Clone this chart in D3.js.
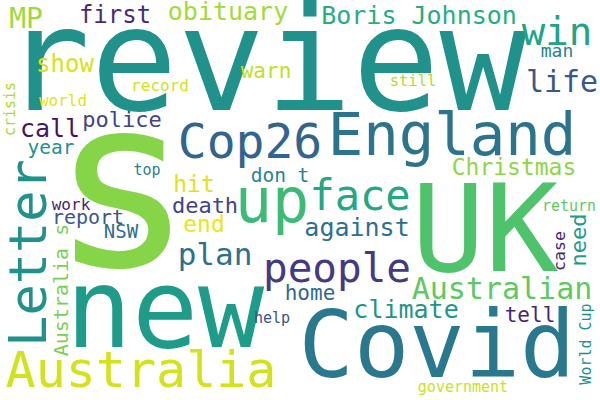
<!DOCTYPE html>
<html>
<head>
<meta charset="utf-8">
<script src="https://cdn.jsdelivr.net/npm/d3@7"></script>
<style>
  body { margin: 0; background: #fff; }
  svg { display: block; }
  text { font-family: "DejaVu Sans Mono", monospace; }
</style>
</head>
<body>
<svg id="svgfield" width="600" height="400"></svg>
<script>
// words and their weights (weight ~ how big the word is drawn)
var words = ["s", "review", "UK", "new", "Covid", "England", "up", "Letter", "Australia", "Cop26",
  "face", "people", "win", "plan", "Australian", "life", "MP", "Boris Johnson", "against", "obituary",
  "call", "climate", "first", "show", "hit", "end", "Christmas", "death", "police", "need",
  "warn", "tell", "home", "Australia s", "report", "don t", "year", "NSW", "man", "case",
  "work", "world", "record", "still", "help", "top", "crisis", "return", "World Cup", "government"];
var weight = [238, 145, 122, 110, 92, 59, 62, 52, 50, 48,
  42, 41, 39, 31, 30, 30, 28, 25, 25, 25,
  25, 25, 24, 24, 23, 23, 23, 22, 22, 22,
  21, 21, 21, 20, 20, 19.5, 19.5, 19, 18, 16.5,
  16, 16, 16, 15.5, 15, 15, 15, 15, 15, 15];
// colour of each word, as a position on the viridis map
var shade = [0.82, 0.5, 0.72, 0.55, 0.4, 0.38, 0.68, 0.5, 0.93, 0.32,
  0.6, 0.17, 0.58, 0.36, 0.75, 0.27, 0.85, 0.62, 0.36, 0.86,
  0.05, 0.52, 0.12, 0.94, 0.95, 0.97, 0.83, 0.2, 0.2, 0.55,
  0.91, 0.1, 0.34, 0.8, 0.27, 0.45, 0.5, 0.35, 0.43, 0.1,
  0.08, 0.95, 0.93, 0.88, 0.25, 0.44, 0.87, 0.75, 0.5, 0.92];

// layout of the cloud: centre x, baseline y, rotation
var posX = [122, 265, 485, 165, 437, 452, 272, 46, 141, 250,
  360, 337, 557, 215, 502, 562, 26, 419, 357, 228,
  50, 406, 115, 65, 194, 204, 514, 205, 122, 586,
  266, 530, 310, 68, 88, 280, 51, 121, 557, 565,
  71, 63, 160, 413, 272, 147, 15, 569, 591, 463];
var posY = [266, 110, 271, 347, 377, 155, 222, 253, 387, 158,
  210, 282, 45, 265, 299, 92, 28, 24, 236, 20,
  137, 318, 23, 72, 192, 232, 175, 213, 127, 240,
  78, 322, 300, 290, 224, 182, 154, 238, 57, 251,
  210, 106, 91, 86, 323, 175, 109, 211, 344, 392];
var rot = [0, 0, 0, 0, 0, 0, 0, -90, 0, 0,
  0, 0, 0, 0, 0, 0, 0, 0, 0, 0,
  0, 0, 0, 0, 0, 0, 0, 0, 0, -90,
  0, 0, 0, -90, 0, 0, 0, 0, 0, -90,
  0, 0, 0, 0, 0, 0, -90, 0, -90, 0];

var svg = d3.select("#svgfield");
var width = 600, height = 400;

var size = d3.scaleLinear().domain([0, 100]).range([0, 100]);
var color = d3.scaleSequential(d3.interpolateViridis).domain([0, 1]);
var x = d3.scaleLinear().domain([0, 600]).range([0, width]);
var y = d3.scaleLinear().domain([0, 400]).range([0, height]);

var data = words.map(function(w, i) {
  return {text: w, weight: weight[i], shade: shade[i], x: posX[i], y: posY[i], r: rot[i]};
});

svg.append("rect").attr("width", width).attr("height", height).attr("fill", "white");

svg.selectAll("text.word").data(data).enter().append("text")
  .attr("class", "word")
  .attr("transform", function(d){ return "translate(" + x(d.x) + "," + y(d.y) + ") rotate(" + d.r + ")"; })
  .attr("text-anchor", "middle")
  .attr("font-size", function(d){ return size(d.weight) + "px"; })
  .attr("fill", function(d){ return color(d.shade); })
  .text(function(d){ return d.text; });
</script>
</body>
</html>
